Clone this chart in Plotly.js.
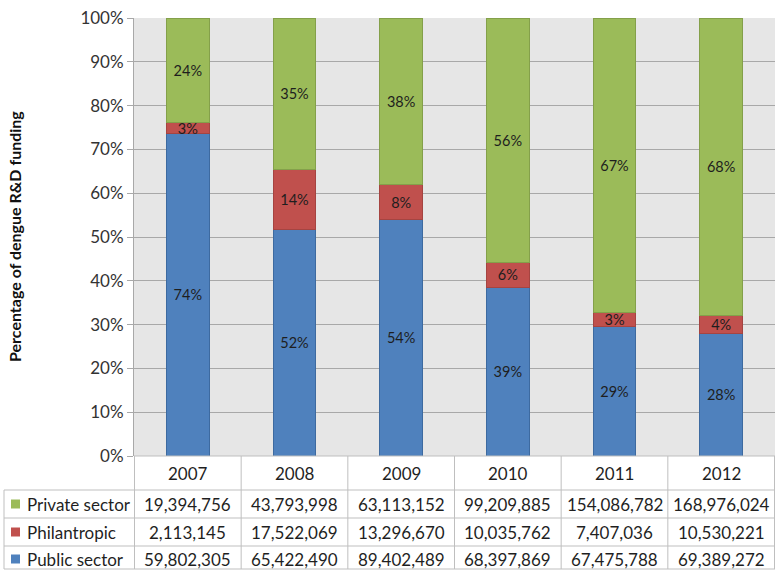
<!DOCTYPE html>
<html>
<head>
<meta charset="utf-8">
<script src="https://cdn.plot.ly/plotly-3.0.1.min.js"></script>
<style>html,body{margin:0;padding:0;background:#fff;}#chart{width:780px;height:572px;}</style>
</head>
<body>
<div id="chart"></div>
<script>
const years = ['2007', '2008', '2009', '2010', '2011', '2012'];
const seriesNames = ['Private sector', 'Philantropic', 'Public sector'];
const privateSector = [19394756, 43793998, 63113152, 99209885, 154086782, 168976024];
const philantropic = [2113145, 17522069, 13296670, 10035762, 7407036, 10530221];
const publicSector = [59802305, 65422490, 89402489, 68397869, 67475788, 69389272];
const colors = {'Public sector': '#4f81bd', 'Philantropic': '#c0504d', 'Private sector': '#9bbb59'};
const outline = {'Public sector': '#3d6aa0', 'Philantropic': '#a54441', 'Private sector': '#84a04a'};

const FONT = 'Lato, "Open Sans", sans-serif';
const W = 780, H = 572, ML = 134, MR = 5, MT = 18, MB = 116;
const PW = W - ML - MR, PH = H - MT - MB;
const px = p => (p - ML) / PW;           // pixel x -> paper x
const py = p => (H - MB - p) / PH;       // pixel y -> paper y

const totals = years.map((_, i) => privateSector[i] + philantropic[i] + publicSector[i]);
const pct = arr => arr.map((v, i) => Math.round(v / totals[i] * 100) + '%');
const fmt = v => v.toLocaleString('en-US');

function barTrace(name, vals) {
  return {
    type: 'bar', name: name, x: years, y: vals,
    marker: {color: colors[name], line: {color: outline[name], width: 1}},
    text: pct(vals), textposition: 'inside', insidetextanchor: 'middle',
    textangle: 0, constraintext: 'none',
    textfont: {family: FONT, size: 14.5, color: '#1e1e1e'},
    hoverinfo: 'name+y'
  };
}
const data = [
  barTrace('Public sector', publicSector),
  barTrace('Philantropic', philantropic),
  barTrace('Private sector', privateSector)
];

const shapes = [];
const annotations = [];
const lineColor = '#bfbfbf';
const rowBottom = 569;
const tableRows = [
  {name: 'Private sector', vals: privateSector, cy: 504},
  {name: 'Philantropic', vals: philantropic, cy: 532},
  {name: 'Public sector', vals: publicSector, cy: 559}
];
const TXT = '#1f1f1f';
// horizontal lines
[490, 518, 546, 569].forEach(y => shapes.push({type: 'line', xref: 'paper', yref: 'paper',
  x0: px(4), x1: px(W - MR), y0: py(y), y1: py(y), line: {color: lineColor, width: 1}}));
shapes.push({type: 'line', xref: 'paper', yref: 'paper', x0: 0, x1: 1, y0: 0, y1: 0,
  line: {color: lineColor, width: 1}});
// vertical lines
shapes.push({type: 'line', xref: 'paper', yref: 'paper', x0: px(4), x1: px(4), y0: py(490), y1: py(rowBottom),
  line: {color: lineColor, width: 1}});
for (let k = 0; k <= years.length; k++) {
  shapes.push({type: 'line', xref: 'x', yref: 'paper', x0: k - 0.5, x1: k - 0.5, y0: 0, y1: py(rowBottom),
    line: {color: lineColor, width: 1}});
}
// year header
years.forEach((yr, i) => annotations.push({xref: 'x', yref: 'paper', x: i, y: py(473), text: yr,
  showarrow: false, xanchor: 'center', yanchor: 'middle', font: {family: FONT, size: 17, color: TXT}}));
// rows
tableRows.forEach(r => {
  shapes.push({type: 'rect', xref: 'paper', yref: 'paper', x0: px(11), x1: px(20),
    y0: py(r.cy + 4.5), y1: py(r.cy - 4.5), fillcolor: colors[r.name], line: {width: 0}});
  annotations.push({xref: 'paper', yref: 'paper', x: px(25), y: py(r.cy), text: r.name, showarrow: false,
    xanchor: 'left', yanchor: 'middle', font: {family: FONT, size: 17, color: TXT}});
  r.vals.forEach((v, i) => annotations.push({xref: 'x', yref: 'paper', x: i, y: py(r.cy), text: fmt(v),
    showarrow: false, xanchor: 'center', yanchor: 'middle', font: {family: FONT, size: 17, color: TXT}}));
});
// y axis title
annotations.push({xref: 'paper', yref: 'paper', x: px(14), y: 0.5, text: '<b>Percentage of dengue R&D funding</b>',
  textangle: -90, showarrow: false, xanchor: 'center', yanchor: 'middle',
  font: {family: FONT, size: 16, color: '#111'}});

const layout = {
  width: W, height: H,
  margin: {l: ML, r: MR, t: MT, b: MB, pad: 0},
  paper_bgcolor: '#ffffff', plot_bgcolor: '#e6e6e6',
  barmode: 'stack', barnorm: 'percent', bargap: 0.6,
  showlegend: false,
  xaxis: {type: 'category', showticklabels: false, showgrid: false, zeroline: false, ticks: '',
    showline: false, fixedrange: true},
  yaxis: {range: [0, 100], dtick: 10, tick0: 0, ticksuffix: '%', showgrid: true, gridcolor: '#a8a8a8',
    gridwidth: 1, zeroline: false, showline: true, linecolor: '#a8a8a8', linewidth: 1,
    ticks: 'outside', ticklen: 6, tickcolor: '#a8a8a8', tickfont: {family: FONT, size: 17, color: '#333'},
    fixedrange: true},
  shapes: shapes, annotations: annotations,
  font: {family: FONT}
};
Plotly.newPlot('chart', data, layout, {displayModeBar: false, staticPlot: true});
</script>
</body>
</html>
